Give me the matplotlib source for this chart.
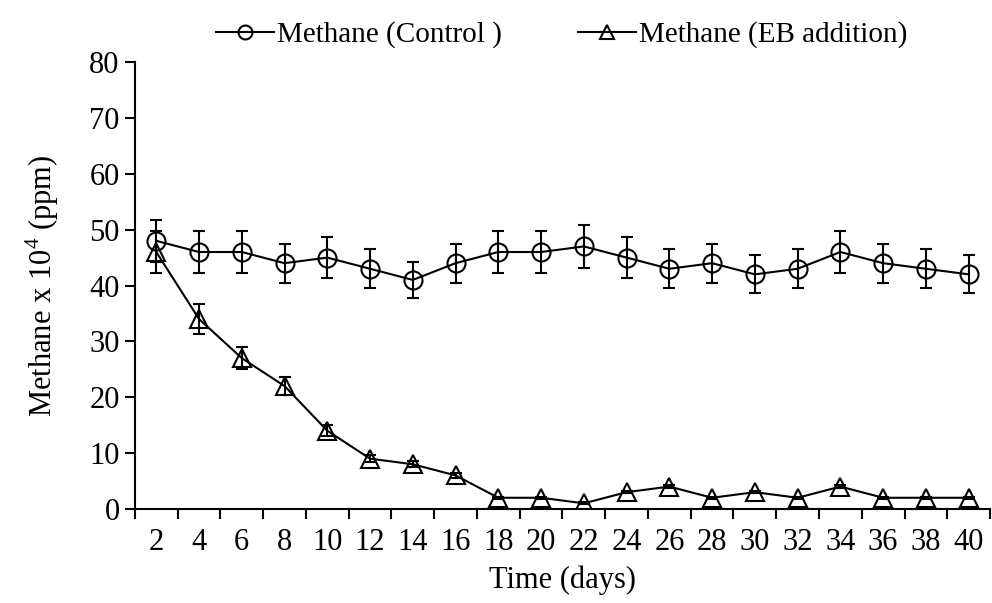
import numpy as np
import matplotlib.pyplot as plt
from matplotlib.lines import Line2D

days = [2, 4, 6, 8, 10, 12, 14, 16, 18, 20, 22, 24, 26, 28, 30, 32, 34, 36, 38, 40]
control = [48, 46, 46, 44, 45, 43, 41, 44, 46, 46, 47, 45, 43, 44, 42, 43, 46, 44, 43, 42]
control_err = [3.8, 3.7, 3.7, 3.5, 3.6, 3.5, 3.3, 3.5, 3.7, 3.7, 3.8, 3.6, 3.5, 3.5, 3.4, 3.5, 3.7, 3.5, 3.5, 3.4]
eb = [46, 34, 27, 22, 14, 9, 8, 6, 2, 2, 1, 3, 4, 2, 3, 2, 4, 2, 2, 2]
eb_err = [3.8, 2.7, 2.0, 1.6, 1.0, 0.6, 0.5, 0.4, 0.2, 0.2, 0.2, 0.2, 0.2, 0.2, 0.2, 0.2, 0.2, 0.2, 0.2, 0.2]

plt.rcParams['font.family'] = ['Liberation Serif', 'DejaVu Serif']
plt.rcParams['mathtext.fontset'] = 'custom'
plt.rcParams['mathtext.rm'] = 'Liberation Serif'
plt.rcParams['font.size'] = 22

fig = plt.figure(figsize=(9.92, 6.03), dpi=100)
ax = fig.add_axes([0.136, 0.156, 0.862, 0.741])

x = np.arange(len(days))
ax.errorbar(x, control, yerr=control_err, color='black', lw=1.5, marker='o', ms=13,
            mfc='none', mec='black', mew=1.5, capsize=4, elinewidth=1.5)
ax.errorbar(x, eb, yerr=eb_err, color='black', lw=1.5, marker='^', ms=13,
            mfc='none', mec='black', mew=1.5, capsize=4, elinewidth=1.5)

ax.set_xlim(-0.5, len(days) - 0.5)
ax.set_ylim(0, 80)
ax.set_yticks(range(0, 81, 10))
ax.set_xticks(x)
ax.set_xticklabels(days)
ax.set_xticks(np.arange(-0.5, len(days), 1), minor=True)
ax.tick_params(axis='x', which='major', length=0, pad=14)
ax.tick_params(axis='x', which='minor', length=7, width=1.5, direction='out')
ax.tick_params(axis='y', length=7, width=1.5, direction='out', pad=4)

for s in ['top', 'right']:
    ax.spines[s].set_visible(False)
for s in ['left', 'bottom']:
    ax.spines[s].set_linewidth(1.5)

ax.set_xlabel('Time (days)', labelpad=6)
ax.set_ylabel('Methane x 10$^{\\mathregular{4}}$ (ppm)', labelpad=20)

handles = [
    Line2D([], [], color='black', lw=1.5, marker='o', ms=10, mfc='none', mew=1.5),
    Line2D([], [], color='black', lw=1.5, marker='^', ms=10, mfc='none', mew=1.5),
]
labels = ['Methane (Control )', 'Methane (EB addition)']
fig.legend(handles, labels, loc='upper center', bbox_to_anchor=(0.566, 1.008), ncol=2,
           frameon=False, fontsize=21, handlelength=2.0, handletextpad=0.1,
           columnspacing=2.6)

fig.savefig('out.png', dpi=100)
